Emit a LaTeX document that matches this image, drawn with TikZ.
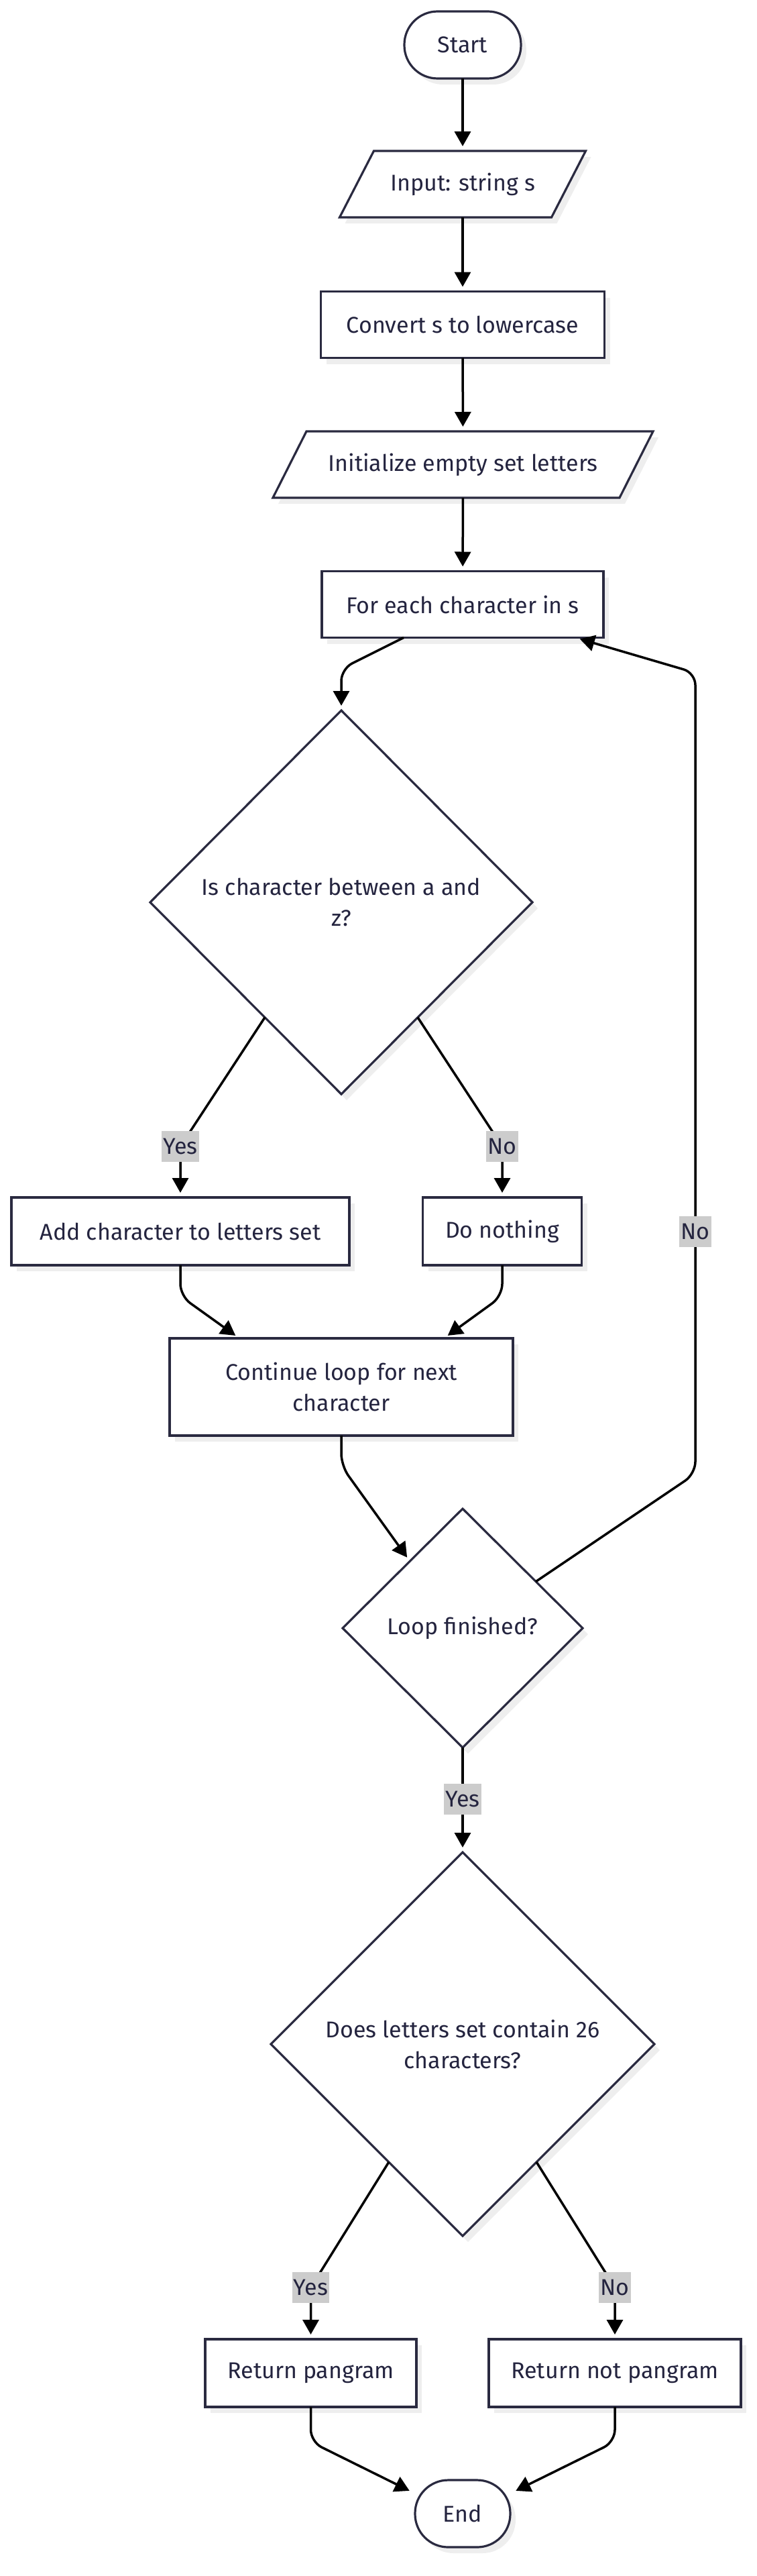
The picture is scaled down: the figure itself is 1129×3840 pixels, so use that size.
\documentclass[tikz,border=0pt]{standalone}
\usepackage{fontspec}
\setmainfont{Fira Sans}
\usetikzlibrary{shapes.geometric, arrows.meta, calc, shadows, backgrounds}
\definecolor{nodestroke}{HTML}{2A2A40}
\definecolor{nodetext}{HTML}{24243F}
\definecolor{shadowgray}{HTML}{EEEEEE}
\definecolor{labelgray}{HTML}{CCCCCC}
\begin{document}
\begin{tikzpicture}[x=1pt, y=-1pt,
  font=\fontsize{34}{46}\selectfont,
  shad/.style={drop shadow={shadow xshift=8pt, shadow yshift=-9pt, fill=shadowgray, opacity=1}},
  base/.style={draw=nodestroke, line width=3.2pt, fill=white, text=nodetext, align=center, inner sep=0pt, outer sep=0pt, shad},
  procbox/.style={base, rectangle, minimum height=99pt},
  termbox/.style={base, rectangle, rounded corners=49.5pt, minimum height=100pt},
  decbox/.style={base, diamond},
  iotext/.style={rectangle, text=nodetext, align=center, inner sep=0pt, outer sep=0pt, minimum height=99pt},
  iopoly/.style={draw=nodestroke, line width=3.2pt, fill=white, line join=miter, shad},
  edge/.style={draw=black, line width=3.5pt, -{Triangle[length=22pt, width=24pt]}, shorten >=7pt, rounded corners=18pt},
  lbl/.style={fill=labelgray, text=nodetext, inner xsep=2pt, inner ysep=0pt, minimum height=46pt}
]
\useasboundingbox (0,0) rectangle (1129,3840);

% nodes
\node[termbox, minimum width=174pt] (start) at (690,67) {Start};
\node[iotext, minimum width=316pt] (input) at (690,274.5) {Input: string s};
\node[procbox, minimum width=423pt] (convert) at (690,484) {Convert s to lowercase};
\node[iotext, minimum width=517pt] (init) at (690.5,692.5) {Initialize empty set letters};
\node[procbox, minimum width=420pt] (foreach) at (690,901) {For each character in s};
\node[decbox, minimum width=570pt, minimum height=572pt] (d1) at (509,1345) {Is character between a and\\z?};
\node[procbox, minimum width=504pt, minimum height=101pt] (add) at (269,1835.5) {Add character to letters set};
\node[procbox, minimum width=237pt, minimum height=101pt] (nothing) at (749,1835.5) {Do nothing};
\node[procbox, minimum width=512pt, minimum height=145pt] (cont) at (509,2067.5) {Continue loop for next\\character};
\node[decbox, minimum width=358pt, minimum height=356pt] (d2) at (690,2427) {Loop finished?};
\node[decbox, minimum width=572pt, minimum height=572pt] (d3) at (690,3047) {Does letters set contain 26\\characters?};
\node[procbox, minimum width=315pt, minimum height=101pt] (retp) at (463.5,3537.5) {Return pangram};
\node[procbox, minimum width=376pt, minimum height=101pt] (retn) at (917,3537.5) {Return not pangram};
\node[termbox, minimum width=142pt] (end) at (690,3747) {End};

% parallelogram outlines
\begin{scope}[on background layer]
\draw[iopoly] ($(input.north west)+(25.5,0)$) -- ($(input.north east)+(25.5,0)$) -- ($(input.south east)+(-25.5,0)$) -- ($(input.south west)+(-25.5,0)$) -- cycle;
\draw[iopoly] ($(init.north west)+(25,0)$) -- ($(init.north east)+(25,0)$) -- ($(init.south east)+(-25,0)$) -- ($(init.south west)+(-25,0)$) -- cycle;
\end{scope}

% edges
\draw[edge] (start) -- (input);
\draw[edge] (input) -- (convert);
\draw[edge] (convert) -- (init);
\draw[edge] (init) -- (foreach);
\draw[edge] ([xshift=-88pt]foreach.south) -- (509,997) -- (d1.north);
\draw[edge] ($(d1.west)!0.6!(d1.south)$) -- (269,1709) -- (add.north);
\draw[edge] ($(d1.east)!0.6!(d1.south)$) -- (749,1709) -- (nothing.north);
\draw[edge] (add.south) -- (269,1932) -- ([xshift=-152pt]cont.north);
\draw[edge] (nothing.south) -- (749,1932) -- ([xshift=153pt]cont.north);
\draw[edge] (cont.south) -- (509,2185) -- ($(d2.west)!0.56!(d2.north)$);
\draw[edge] ($(d2.north)!0.61!(d2.east)$) -- (1037,2197) -- (1037,1003) -- ([xshift=-42pt]foreach.south east);
\draw[edge] (d2.south) -- (d3.north);
\draw[edge] ($(d3.west)!0.615!(d3.south)$) -- (463.5,3410) -- (retp.north);
\draw[edge] ($(d3.east)!0.615!(d3.south)$) -- (917,3410) -- (retn.north);
\draw[edge] (retp.south) -- (463.5,3640) -- ([shift={(-73,-31)}]end.center);
\draw[edge] (retn.south) -- (917,3640) -- ([shift={(73,-31)}]end.center);

% edge labels
\node[lbl] (l1) at (269,1709) {Yes};
\node[lbl] (l2) at (749,1709) {No};
\node[lbl] (l3) at (1037,1836) {No};
\node[lbl] (l4) at (690,2682) {Yes};
\node[lbl] (l5) at (463.5,3410) {Yes};
\node[lbl] (l6) at (917,3410) {No};
\end{tikzpicture}
\end{document}
